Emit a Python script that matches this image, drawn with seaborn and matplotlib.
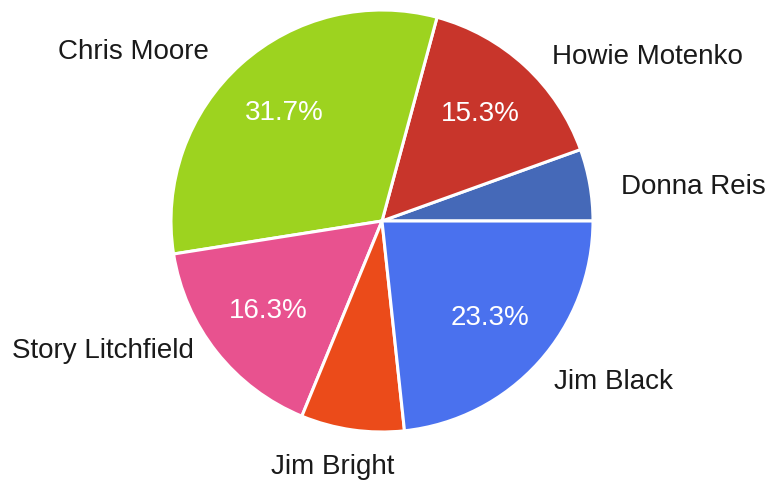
import matplotlib
matplotlib.use("Agg")
import matplotlib.pyplot as plt
import matplotlib.transforms as mtransforms
import seaborn as sns

names = ["Donna Reis", "Howie Motenko", "Chris Moore", "Story Litchfield", "Jim Bright", "Jim Black"]
shares = [5.5, 15.3, 31.7, 16.3, 7.9, 23.3]
slice_colors = ["#4569B8", "#C8352B", "#9DD31F", "#E8528F", "#EB4B1A", "#4A71EE"]

sns.set_theme(style="white")
plt.rcParams['font.family'] = ['Liberation Sans', 'DejaVu Sans']

W, H = 772, 484
fig = plt.figure(figsize=(W / 100, H / 100), dpi=100)
cx, cy, r = 382, 221, 211
ax = fig.add_axes([(cx - r) / W, (H - cy - r) / H, 2 * r / W, 2 * r / H])

palette = sns.color_palette(slice_colors)

def fmt(p):
    return f"{p:.1f}%" if p >= 10 else ""

wedges, texts, autotexts = ax.pie(
    shares, labels=names, colors=palette, startangle=0, counterclock=True,
    autopct=fmt, pctdistance=0.69, labeldistance=1.13,
    wedgeprops=dict(edgecolor="white", linewidth=2.2),
    textprops=dict(fontsize=20, color="#1a1a1a"),
)
# label nudges (points) to follow the reference's label placement
nudges = [(3, -5), (6, -8), (-10, -6), (-1, 13), (33, -7), (-4, -1)]
for t, (dx, dy) in zip(texts, nudges):
    t.set_transform(mtransforms.offset_copy(t.get_transform(), fig=fig, x=dx, y=dy, units="points"))
for t in autotexts:
    t.set_color("white")
    t.set_fontsize(20)
ax.set_xlim(-1, 1)
ax.set_ylim(-1, 1)
ax.set_aspect("equal")
ax.axis("off")

fig.savefig("out.png", dpi=100, facecolor="white")
